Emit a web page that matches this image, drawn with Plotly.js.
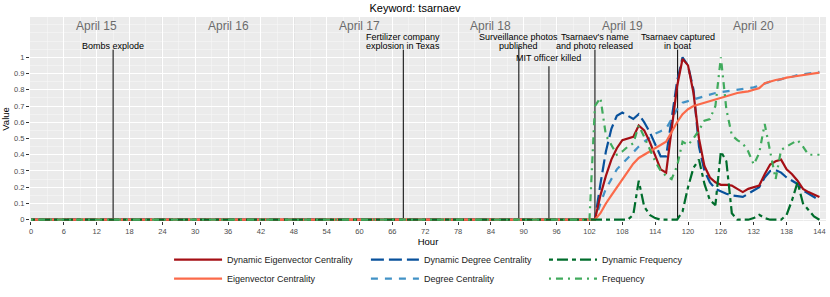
<!DOCTYPE html>
<html>
<head>
<meta charset="utf-8">
<script src="https://cdn.plot.ly/plotly-3.0.1.min.js"></script>
<style>html,body{margin:0;padding:0;background:#fff;}#chart{width:830px;height:297px;}</style>
</head>
<body>
<div id="chart"></div>
<script>
// ---- data ----
const hours = [0, 102, 103, 104, 105, 106, 107, 108, 109, 110, 111, 112, 113, 114, 115, 116, 117, 118, 119, 120, 121, 122, 123, 124, 125, 126, 127, 128, 129, 130, 131, 132, 133, 134, 135, 136, 137, 138, 139, 140, 141, 142, 143, 144];

const dynEigenvector = [0, 0, 0.00, 0.15, 0.27, 0.37, 0.44, 0.49, 0.50, 0.51, 0.58, 0.55, 0.48, 0.40, 0.31, 0.29, 0.56, 0.82, 0.99, 0.95, 0.78, 0.50, 0.33, 0.26, 0.23, 0.215, 0.215, 0.21, 0.19, 0.17, 0.19, 0.20, 0.21, 0.28, 0.34, 0.36, 0.37, 0.31, 0.28, 0.24, 0.19, 0.17, 0.155, 0.14];
const eigenvector = [0, 0, 0.00, 0.04, 0.10, 0.15, 0.20, 0.25, 0.30, 0.345, 0.38, 0.40, 0.42, 0.44, 0.46, 0.48, 0.54, 0.60, 0.65, 0.68, 0.70, 0.71, 0.72, 0.73, 0.74, 0.75, 0.76, 0.77, 0.78, 0.785, 0.79, 0.80, 0.81, 0.84, 0.85, 0.86, 0.865, 0.875, 0.88, 0.885, 0.89, 0.895, 0.90, 0.905];
const dynDegree = [0, 0, 0.00, 0.22, 0.42, 0.56, 0.64, 0.66, 0.64, 0.62, 0.65, 0.60, 0.54, 0.46, 0.39, 0.39, 0.62, 0.85, 1.00, 0.95, 0.80, 0.45, 0.30, 0.23, 0.19, 0.175, 0.16, 0.15, 0.145, 0.14, 0.16, 0.18, 0.20, 0.26, 0.30, 0.305, 0.29, 0.26, 0.24, 0.22, 0.18, 0.16, 0.14, 0.12];
const degree = [0, 0, 0.00, 0.10, 0.19, 0.25, 0.31, 0.345, 0.38, 0.42, 0.45, 0.48, 0.505, 0.53, 0.545, 0.56, 0.62, 0.68, 0.72, 0.73, 0.74, 0.75, 0.76, 0.77, 0.78, 0.785, 0.79, 0.795, 0.80, 0.805, 0.81, 0.815, 0.825, 0.84, 0.85, 0.855, 0.865, 0.875, 0.88, 0.89, 0.895, 0.90, 0.905, 0.91];
const dynFrequency = [0, 0, 0, 0, 0, 0, 0, 0, 0, 0.03, 0.24, 0.08, 0.03, 0.01, 0, 0, 0, 0, 0.05, 0.20, 0.32, 0.37, 0.22, 0.12, 0.09, 0.42, 0.36, 0.04, 0, 0, 0, 0.01, 0.03, 0.01, 0, 0, 0, 0.03, 0.12, 0.23, 0.10, 0.06, 0.02, 0];
const frequency = [0, 0, 0.70, 0.75, 0.52, 0.46, 0.40, 0.42, 0.45, 0.47, 0.58, 0.51, 0.43, 0.36, 0.30, 0.27, 0.25, 0.33, 0.48, 0.46, 0.50, 0.55, 0.61, 0.62, 0.70, 1.00, 0.68, 0.52, 0.49, 0.47, 0.42, 0.34, 0.41, 0.59, 0.42, 0.25, 0.43, 0.45, 0.47, 0.49, 0.45, 0.40, 0.40, 0.40];

const dayCenters = [12, 36, 60, 84, 108, 132];
const dayNames = ["April 15", "April 16", "April 17", "April 18", "April 19", "April 20"];
const dayBoundaries = [24, 48, 72, 96, 120, 144];

const eventHours = [15, 68, 89.1, 94.6, 103, 118.1];
const eventLabels = [["Bombs explode"], ["Fertilizer company", "explosion in Texas"], ["Surveillance photos", "published"], ["MIT officer killed"], ["Tsarnaev's name", "and photo released"], ["Tsarnaev captured", "in boat"]];
const eventTops = [1.047, 1.047, 1.067, 0.945, 1.047, 1.047];
const eventLabelY = [1.067, 1.067, 1.067, 0.994, 1.067, 1.067];

const xTicks = [0, 6, 12, 18, 24, 30, 36, 42, 48, 54, 60, 66, 72, 78, 84, 90, 96, 102, 108, 114, 120, 126, 132, 138, 144];
const yTicks = [0, 0.1, 0.2, 0.3, 0.4, 0.5, 0.6, 0.7, 0.8, 0.9, 1];

// ---- traces ----
const FONT = "Liberation Sans, Arial, sans-serif";
const LW = 2.2;
function tr(name, y, color, dash, legend) {
  return {x: hours, y: y, name: name, type: 'scatter', mode: 'lines',
    line: {color: color, width: LW, dash: dash}, legend: legend, hoverinfo: 'skip'};
}
const traces = [
  tr('Dynamic Degree Centrality', dynDegree, '#08519c', '13px,5px', 'legend2'),
  tr('Degree Centrality', degree, '#4292c6', '7px,7px', 'legend2'),
  tr('Dynamic Eigenvector Centrality', dynEigenvector, '#a50f15', 'solid', 'legend'),
  tr('Eigenvector Centrality', eigenvector, '#fb6a4a', 'solid', 'legend'),
  tr('Dynamic Frequency', dynFrequency, '#006d2c', '4px,4px,11px,4px', 'legend3'),
  tr('Frequency', frequency, '#41ab5d', '2px,5px,7px,5px', 'legend3')
];

// ---- shapes & annotations ----
const shapes = [];
dayBoundaries.forEach(h => shapes.push({type: 'line', xref: 'x', yref: 'paper', x0: h, x1: h, y0: 0, y1: 1,
  line: {color: '#cfcfcf', width: 1}, layer: 'between'}));
eventHours.forEach((h, i) => shapes.push({type: 'line', xref: 'x', yref: 'y', x0: h, x1: h, y0: 0, y1: eventTops[i],
  line: {color: '#000', width: 1}, layer: 'between'}));

const annotations = [];
dayCenters.forEach((h, i) => annotations.push({x: h, y: 1.193, xref: 'x', yref: 'y', text: dayNames[i],
  showarrow: false, xanchor: 'center', yanchor: 'middle', font: {family: FONT, size: 12, color: '#6b6b6b'}}));
eventHours.forEach((h, i) => {
  const lines = eventLabels[i];
  lines.forEach((ln, j) => {
    const k = lines.length - 1 - j;
    annotations.push({x: h, y: eventLabelY[i], xref: 'x', yref: 'y', text: ln,
      showarrow: false, xanchor: 'center', yanchor: 'middle', yshift: k * 9, borderpad: 0,
      font: {family: FONT, size: 9, color: '#000'}});
  });
});

const legendBase = {orientation: 'v', xanchor: 'left', yanchor: 'top', y: -0.118,
  bgcolor: 'rgba(0,0,0,0)', font: {family: FONT, size: 9, color: '#1a1a1a'}, itemwidth: 48, tracegroupgap: 0};

const layout = {
  width: 830, height: 297,
  margin: {l: 30, r: 4, t: 17, b: 74},
  paper_bgcolor: '#fff', plot_bgcolor: '#ebebeb',
  font: {family: FONT},
  title: {text: 'Keyword: tsarnaev', x: 0.5, xanchor: 'center', y: 0.972, yanchor: 'middle',
    font: {family: FONT, size: 11, color: '#000'}},
  xaxis: {range: [-0.18, 145.2], tickvals: xTicks, ticktext: xTicks.map(String), showgrid: true,
    gridcolor: '#fff', gridwidth: 1, zeroline: false, showline: false,
    minor: {dtick: 3, tick0: 0, showgrid: true, gridcolor: '#f7f7f7', gridwidth: 0.6},
    ticks: 'outside', ticklen: 3, tickcolor: '#333', tickwidth: 1,
    tickfont: {family: FONT, size: 7.5, color: '#4d4d4d'},
    title: {text: 'Hour', font: {family: FONT, size: 9.5, color: '#000'}, standoff: 0}},
  yaxis: {range: [-0.008, 1.248], tickvals: yTicks, ticktext: yTicks.map(String), showgrid: true,
    gridcolor: '#fff', gridwidth: 1, zeroline: false, showline: false,
    minor: {dtick: 0.05, tick0: 0, showgrid: true, gridcolor: '#f7f7f7', gridwidth: 0.6},
    ticks: 'outside', ticklen: 3, tickcolor: '#333', tickwidth: 1,
    tickfont: {family: FONT, size: 7.5, color: '#4d4d4d'},
    title: {text: 'Value', font: {family: FONT, size: 9.5, color: '#000'}, standoff: 4}},
  showlegend: true,
  legend: Object.assign({}, legendBase, {x: 0.1747}),
  legend2: Object.assign({}, legendBase, {x: 0.422}),
  legend3: Object.assign({}, legendBase, {x: 0.6457}),
  shapes: shapes,
  annotations: annotations
};

Plotly.newPlot('chart', traces, layout, {staticPlot: true, displayModeBar: false});
</script>
</body>
</html>
